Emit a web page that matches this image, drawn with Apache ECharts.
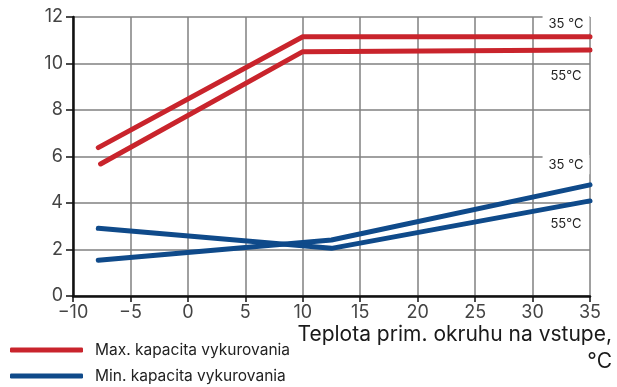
<!DOCTYPE html>
<html>
<head>
<meta charset="utf-8">
<script src="https://cdn.jsdelivr.net/npm/echarts@6/dist/echarts.min.js"></script>
<style>
  html, body { margin: 0; padding: 0; background: #fff; }
  #chart { width: 617px; height: 387px; }
</style>
</head>
<body>
<div id="chart"></div>
<script>
// Inlet brine temperature (°C) vs heating capacity (kW)
const maxX35 = [-7.8, 10, 35];
const maxY35 = [6.38, 11.15, 11.15];
const maxX55 = [-7.6, 10, 35];
const maxY55 = [5.68, 10.51, 10.58];
const minX35 = [-7.8, 12.5, 35];
const minY35 = [1.54, 2.41, 4.78];
const minX55 = [-7.8, 12.5, 35];
const minY55 = [2.91, 2.05, 4.09];

const legendNames = ['Max. kapacita vykurovania', 'Min. kapacita vykurovania'];
const curveLabels = ['35 °C', '55°C', '35 °C', '55°C'];
const axisTitle = 'Teplota prim. okruhu na vstupe,\n°C';

const RED = '#c9242c';
const BLUE = '#0f4a8a';
const FONT = 'Inter, "Noto Sans", sans-serif';

const pairs = (xs, ys) => xs.map((x, i) => [x, ys[i]]);

function curve(name, color, xs, ys, label, offsetY) {
  const last = [xs[xs.length - 1], ys[ys.length - 1]];
  return {
    name: name,
    type: 'line',
    data: pairs(xs, ys),
    symbol: 'none',
    lineStyle: { color: color, width: 5, cap: 'round', join: 'round' },
    itemStyle: { color: color },
    z: 3,
    markPoint: {
      symbol: 'circle',
      symbolSize: 0,
      silent: true,
      data: [{ coord: last }],
      label: {
        show: true,
        formatter: label,
        position: 'inside',
        offset: [-24, offsetY],
        color: '#222',
        fontSize: 13,
        fontFamily: FONT,
        backgroundColor: '#fff',
        padding: [3, 6, 3, 6]
      }
    }
  };
}

function legendRow(name, top) {
  return {
    data: [name],
    left: 10,
    top: top,
    padding: 0,
    itemWidth: 73,
    itemHeight: 5,
    icon: 'roundRect',
    textStyle: { fontFamily: FONT, fontSize: 15.5, color: '#222', padding: [0, 0, 0, 7] }
  };
}

const chart = echarts.init(document.getElementById('chart'), null, { renderer: 'canvas' });
chart.setOption({
  animation: false,
  backgroundColor: '#fff',
  grid: { left: 73, right: 27, top: 17, bottom: 91, containLabel: false },
  graphic: [{
    type: 'text',
    x: 612,
    y: 321,
    style: {
      text: axisTitle,
      align: 'right',
      verticalAlign: 'top',
      fontFamily: FONT,
      fontSize: 21,
      lineHeight: 27,
      fill: '#1a1a1a'
    }
  }],
  legend: [legendRow(legendNames[0], 342), legendRow(legendNames[1], 368)],
  xAxis: {
    type: 'value',
    min: -10, max: 35, interval: 5,
    axisLine: { show: true, onZero: false, lineStyle: { color: '#111', width: 2.5 } },
    axisTick: { show: true, length: 6, lineStyle: { color: '#111', width: 1.5 } },
    axisLabel: {
      fontFamily: FONT, fontSize: 18, color: '#444', margin: 8,
      formatter: v => (v < 0 ? '\u2212' + Math.abs(v) : String(v))
    },
    splitLine: { show: true, lineStyle: { color: '#808080', width: 1.5 } }
  },
  yAxis: {
    type: 'value',
    min: 0, max: 12, interval: 2,
    axisLine: { show: true, onZero: false, lineStyle: { color: '#111', width: 2.5 } },
    axisTick: { show: true, length: 7, lineStyle: { color: '#111', width: 1.5 } },
    axisLabel: { fontFamily: FONT, fontSize: 18, color: '#444', margin: 10 },
    splitLine: { show: true, lineStyle: { color: '#808080', width: 1.5 } }
  },
  series: [
    curve(legendNames[0], RED, maxX35, maxY35, curveLabels[0], -13),
    curve(legendNames[0], RED, maxX55, maxY55, curveLabels[1], 26),
    curve(legendNames[1], BLUE, minX35, minY35, curveLabels[2], -20),
    curve(legendNames[1], BLUE, minX55, minY55, curveLabels[3], 23)
  ]
});
</script>
</body>
</html>
